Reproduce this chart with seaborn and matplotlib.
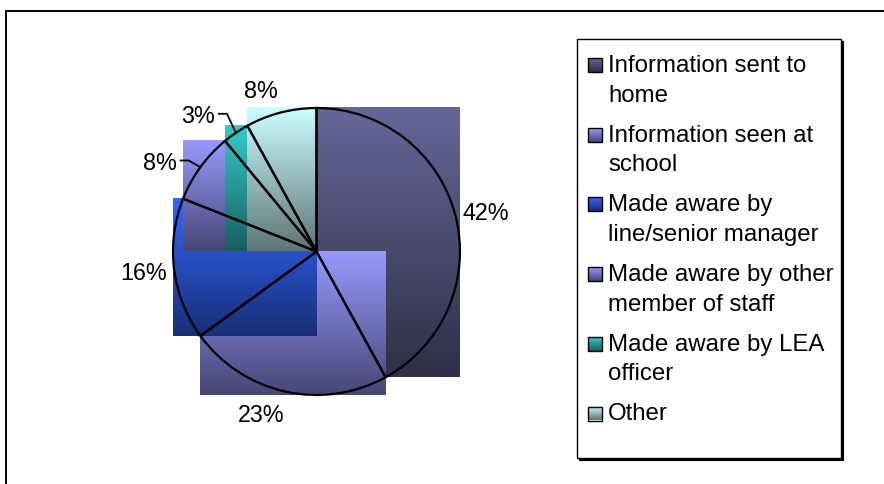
import numpy as np
import matplotlib
matplotlib.use("Agg")
import matplotlib.pyplot as plt
from matplotlib.colors import to_rgb
from matplotlib.patches import Rectangle
import seaborn as sns

# ---- data -------------------------------------------------------------
categories = [
    "Information sent to\nhome",
    "Information seen at\nschool",
    "Made aware by\nline/senior manager",
    "Made aware by other\nmember of staff",
    "Made aware by LEA\nofficer",
    "Other",
]
shares = [42, 23, 16, 8, 3, 8]
pct_labels = ["42%", "23%", "16%", "8%", "3%", "8%"]
base_colors = ["#666699", "#9999FF", "#3366FF", "#9999FF", "#33CCCC", "#CCFFFF"]

# ---- styling ----------------------------------------------------------
sns.set_theme(style="white")
plt.rcParams["font.family"] = ["Liberation Sans", "DejaVu Sans"]
palette = sns.color_palette(base_colors)

W, H = 884, 484
CX, CY, R = 316.5, 251.5, 143.5          # pie centre / radius in pixels

# percentage label placement (pixel x, pixel baseline, alignment, leader)
label_layout = [
    (485.8, 220.0, "center", False),
    (261.2, 421.7, "center", False),
    (143.7, 280.0, "center", False),
    (176.7, 170.0, "right", True),
    (215.0, 123.3, "right", True),
    (260.8, 98.3, "center", False),
]


def px(x, y):
    """pixel position -> pie data units"""
    return (x - CX) / R, (CY - y) / R


def gradient(color, n=256):
    top = np.array(to_rgb(color))
    bottom = top * 0.46
    t = np.linspace(0, 1, n)[:, None]
    return (top * (1 - t) + bottom * t)[:, None, :]


fig = plt.figure(figsize=(W / 100, H / 100), dpi=100)
fig.patch.set_facecolor("white")

# ---- pie --------------------------------------------------------------
ax = fig.add_axes([0, 0, 1, 1])
wedges, _ = ax.pie(
    shares, startangle=90, counterclock=False, radius=1, center=(0, 0),
    wedgeprops=dict(facecolor="none", edgecolor="black", linewidth=1.6, zorder=10),
)

# gradient fill painted over each wedge's bounding box (centre included)
for k, (w, c) in enumerate(zip(wedges, palette)):
    th = np.radians(np.linspace(w.theta1, w.theta2, 721))
    xs = np.r_[0.0, np.cos(th)]
    ys = np.r_[0.0, np.sin(th)]
    ax.imshow(gradient(c), extent=(xs.min(), xs.max(), ys.min(), ys.max()),
              aspect="auto", interpolation="bilinear", zorder=2 + 0.01 * k)

# percentage labels (with leader lines for the thin slices)
for w, txt, (lx, ly, ha, leader) in zip(wedges, pct_labels, label_layout):
    x, y = px(lx, ly)
    ax.text(x, y, txt, ha=ha, va="baseline", fontsize=16.8, color="black", zorder=12)
    if leader:
        mid = np.radians(0.5 * (w.theta1 + w.theta2))
        sx, sy = px(lx + 3, ly - 9.5)
        ex, ey = px(lx + 12, ly - 9.5)
        ax.plot([sx, ex, np.cos(mid)], [sy, ey, np.sin(mid)],
                color="black", lw=1.3, zorder=11, solid_capstyle="butt")

ax.set_aspect("auto")
ax.set_xlim(-CX / R, (W - CX) / R)
ax.set_ylim((CY - H) / R, CY / R)
ax.axis("off")

# ---- chart frame and legend (pixel space) -----------------------------
lax = fig.add_axes([0, 0, 1, 1], zorder=5)
lax.set_xlim(0, W)
lax.set_ylim(H, 0)
lax.axis("off")
lax.patch.set_alpha(0)

lax.plot([6, W + 5], [11, 11], color="black", lw=1.4, clip_on=False)
lax.plot([6, 6], [11, H + 5], color="black", lw=1.4, clip_on=False)

lax.add_patch(Rectangle((579, 41), 264, 419, facecolor="black", edgecolor="black", lw=0.8))
lax.add_patch(Rectangle((577, 39), 264, 419, facecolor="white", edgecolor="black", lw=1.0))

for i, (name, c) in enumerate(zip(categories, palette)):
    base = 72 + i * 69.7
    lax.imshow(gradient(c), extent=(588, 602, base, base - 14), aspect="auto",
               interpolation="bilinear", zorder=6)
    lax.add_patch(Rectangle((588, base - 14), 14, 14, facecolor="none",
                            edgecolor="black", lw=1.0, zorder=7))
    for j, line in enumerate(name.split("\n")):
        lax.text(608, base + j * 29.5, line, ha="left", va="baseline",
                 fontsize=17.3, color="black", zorder=7)

lax.set_xlim(0, W)
lax.set_ylim(H, 0)

fig.savefig("out.png", dpi=100)
